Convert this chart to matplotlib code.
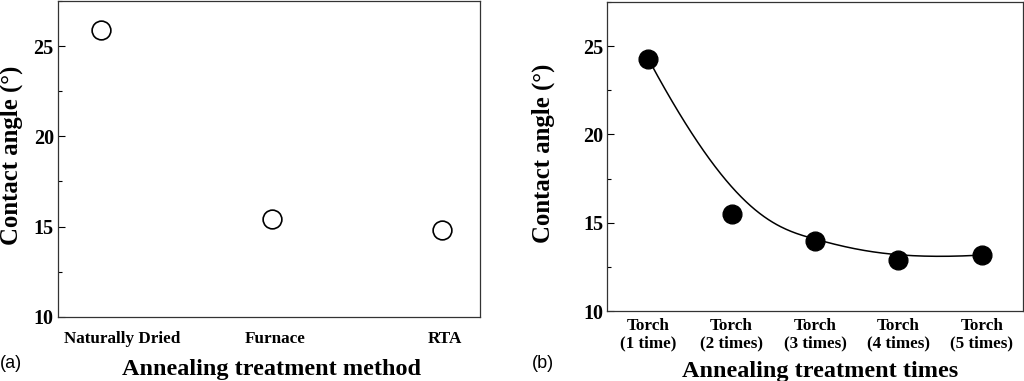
import numpy as np
import matplotlib
matplotlib.use("Agg")
import matplotlib.pyplot as plt
import matplotlib.transforms as mtransforms
from matplotlib.ticker import MultipleLocator

plt.rcParams["font.family"] = ["Liberation Serif", "DejaVu Serif"]
plt.rcParams["font.weight"] = "bold"

# (a) annealing method
methods = ["Naturally Dried", "Furnace", "RTA"]
angle_method = [25.9, 15.4, 14.8]

# (b) torch annealing repeats
torch_labels = ["Torch\n(1 time)", "Torch\n(2 times)", "Torch\n(3 times)",
                "Torch\n(4 times)", "Torch\n(5 times)"]
angle_torch = [24.3, 15.5, 13.95, 12.9, 13.17]


def bspline(px, py, n=200):
    # clamped cubic B-spline using the data points as control points
    k = 3
    m = len(px)
    inner = np.linspace(0, 1, m - k + 1)[1:-1]
    t = np.concatenate([[0] * (k + 1), inner, [1] * (k + 1)])
    u = np.linspace(0, 1, n)
    u[-1] -= 1e-9

    def basis(i, p, u):
        if p == 0:
            return ((t[i] <= u) & (u < t[i + 1])).astype(float)
        out = np.zeros_like(u)
        if t[i + p] > t[i]:
            out += (u - t[i]) / (t[i + p] - t[i]) * basis(i, p - 1, u)
        if t[i + p + 1] > t[i + 1]:
            out += (t[i + p + 1] - u) / (t[i + p + 1] - t[i + 1]) * basis(i + 1, p - 1, u)
        return out

    B = np.array([basis(i, k, u) for i in range(m)])
    return B.T @ np.asarray(px, float), B.T @ np.asarray(py, float)


fig = plt.figure(figsize=(10.24, 3.81), dpi=100)
ax1 = fig.add_axes([0.0566, 0.1688, 0.412, 0.828])
ax2 = fig.add_axes([0.593, 0.1837, 0.4057, 0.811])

for ax in (ax1, ax2):
    ax.set_ylim(10, 27.5)
    ax.yaxis.set_major_locator(MultipleLocator(5))
    ax.yaxis.set_minor_locator(MultipleLocator(2.5))
    ax.tick_params(axis="y", which="major", direction="in", length=5, width=0.8,
                   labelsize=14.5, pad=3)
    ax.tick_params(axis="y", which="minor", direction="in", length=3, width=0.8)
    ax.tick_params(axis="x", which="both", length=0, labelsize=12.3)
    for s in ax.spines.values():
        s.set_linewidth(0.9)
        s.set_color("#333333")
    ax.set_ylabel("Contact angle (°)", fontsize=17.8, fontweight="bold")

# panel (a)
xa = np.arange(len(methods))
ax1.plot(xa, angle_method, "o", ms=13.5, mfc="white", mec="black", mew=1.2)
ax1.set_xlim(-0.252, 2.22)
ax1.set_xticks(xa)
ax1.set_xticklabels(methods)
ax1.tick_params(axis="x", pad=10)
shift = [21, 3, 3]
for lab, dx in zip(ax1.get_xticklabels(), shift):
    lab.set_transform(lab.get_transform() +
                      mtransforms.ScaledTranslation(dx / 100, 0, fig.dpi_scale_trans))
ax1.set_xlabel("Annealing treatment method", fontsize=17.5, fontweight="bold")
ax1.yaxis.set_label_coords(-0.083, 0.51)
ax1.xaxis.set_label_coords(0.505, -0.134)

# panel (b)
xb = np.arange(len(torch_labels))
cx, cy = bspline(xb, angle_torch)
ax2.plot(cx, cy, "-", color="black", lw=1.1)
ax2.plot(xb, angle_torch, "o", ms=13.5, color="black")
ax2.set_xlim(-0.49, 4.49)
ax2.set_xticks(xb)
ax2.set_xticklabels(torch_labels, linespacing=1.15)
ax2.tick_params(axis="x", pad=5)
ax2.set_xlabel("Annealing treatment times", fontsize=17.5, fontweight="bold")
ax2.yaxis.set_label_coords(-0.126, 0.51)
ax2.xaxis.set_label_coords(0.512, -0.161)

fig.text(0.0, 0.035, "(a)", fontsize=13, family="Liberation Sans", fontweight="normal")
fig.text(0.519, 0.035, "(b)", fontsize=13, family="Liberation Sans", fontweight="normal")

fig.savefig("out.png", dpi=100)
